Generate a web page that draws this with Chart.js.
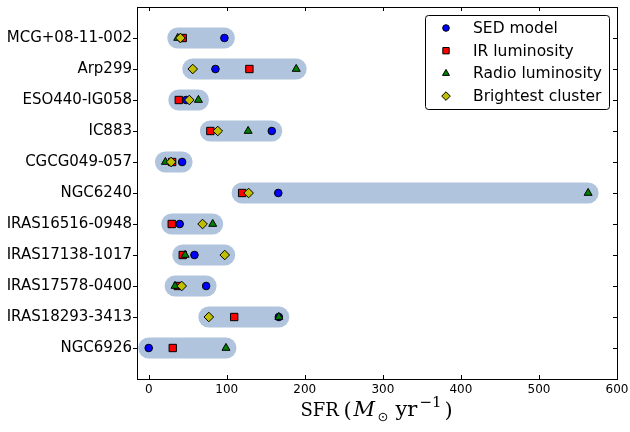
<!DOCTYPE html>
<html>
<head>
<meta charset="utf-8">
<script src="https://cdn.jsdelivr.net/npm/chart.js@4.4.0/dist/chart.umd.min.js"></script>
<style>
  html, body { margin: 0; padding: 0; background: #fff; }
</style>
</head>
<body>
<canvas id="chart" width="630" height="432"></canvas>
<script>
const galaxies = [
  "MCG+08-11-002", "Arp299", "ESO440-IG058", "IC883", "CGCG049-057", "NGC6240",
  "IRAS16516-0948", "IRAS17138-1017", "IRAS17578-0400", "IRAS18293-3413", "NGC6926"
];
const sedModel = [97, 85.5, 48, 157.7, 42.8, 166, 39.7, 58.6, 73.6, 166.7, 0];
const irLum = [43.6, 129, 38.5, 79, 30, 119.7, 29.5, 43.6, 37.2, 109.5, 30.8];
const radioLum = [37.2, 189, 63.7, 127.4, 21.4, 563, 82, 46.7, 33.8, 166.7, 99];
const brightestCluster = [40.6, 56.4, 52, 88.5, 28.7, 128, 69, 97.4, 42.3, 77, null];
const xTicks = [0, 100, 200, 300, 400, 500, 600];

const FONT = "DejaVu Sans";

// one marker series per method
const series = [
  { label: "SED model", values: sedModel, style: "circle", color: "#0000ff", r: 3.8, lr: 3.3, order: 4 },
  { label: "IR luminosity", values: irLum, style: "rect", color: "#ff0000", r: 5.2, lr: 4.5, order: 3 },
  { label: "Radio luminosity", values: radioLum, style: "triangle", color: "#008000", r: 4.6, lr: 4, order: 2 },
  { label: "Brightest cluster", values: brightestCluster, style: "rectRot", color: "#bfbf00", r: 4.8, lr: 4.3, order: 1 }
];

// range bars: from smallest to largest estimate of each galaxy
const rangeSets = galaxies.map((g, i) => {
  const vals = series.map(s => s.values[i]).filter(v => v !== null);
  return {
    type: "line",
    data: [{ x: Math.min(...vals), y: i }, { x: Math.max(...vals), y: i }],
    borderColor: "#b0c4de",
    borderWidth: 21,
    borderCapStyle: "round",
    pointRadius: 0,
    pointHoverRadius: 0,
    order: 10
  };
});

const markerSets = series.map(s => ({
  type: "scatter",
  label: s.label,
  legendMarker: true,
  lr: s.lr,
  data: s.values.map((v, i) => ({ x: v, y: i })).filter(p => p.x !== null),
  pointStyle: s.style,
  pointRadius: s.r,
  pointHoverRadius: s.r,
  backgroundColor: s.color,
  borderColor: "#000",
  borderWidth: 1,
  order: s.order
}));

const framePlugin = {
  id: "frame",
  afterDraw(chart) {
    const ctx = chart.ctx;
    const a = chart.chartArea;
    const xs = chart.scales.x, ys = chart.scales.y;
    ctx.save();
    ctx.strokeStyle = "#000";
    ctx.lineWidth = 1;
    ctx.strokeRect(Math.round(a.left) + 0.5, Math.round(a.top) + 0.5,
      Math.round(a.right - a.left), Math.round(a.bottom - a.top));
    // x ticks point inward, y ticks out on the left and in on the right
    ctx.beginPath();
    xTicks.forEach(v => {
      const px = Math.round(xs.getPixelForValue(v)) + 0.5;
      ctx.moveTo(px, a.bottom); ctx.lineTo(px, a.bottom - 4);
      ctx.moveTo(px, a.top); ctx.lineTo(px, a.top + 4);
    });
    galaxies.forEach((g, i) => {
      const py = Math.round(ys.getPixelForValue(i)) + 0.5;
      ctx.moveTo(a.left, py); ctx.lineTo(a.left - 4, py);
      ctx.moveTo(a.right, py); ctx.lineTo(a.right - 4, py);
    });
    ctx.stroke();

    // legend box in the upper right corner
    const bx = 425.5, by = 15.5, bw = 184, bh = 94;
    ctx.fillStyle = "#fff";
    ctx.beginPath();
    ctx.roundRect(bx, by, bw, bh, 3);
    ctx.fill();
    ctx.stroke();
    ctx.font = "15.5px " + FONT;
    ctx.textBaseline = "middle";
    chart.data.datasets.filter(d => d.legendMarker).forEach((d, k) => {
      const y = 28 + k * 22.7;
      ctx.fillStyle = d.backgroundColor;
      ctx.strokeStyle = "#000";
      ctx.lineWidth = 1;
      Chart.helpers.drawPoint(ctx, { pointStyle: d.pointStyle, radius: d.lr, rotation: 0, borderWidth: 1 }, 446, y);
      ctx.fillStyle = "#000";
      ctx.fillText(d.label, 473, y + 1);
    });

    // axis title SFR (M_sun yr^-1), parts placed by offset from the start
    const serif = "'DejaVu Serif'";
    const parts = [
      { t: "SFR", f: "18px " + serif, dx: 0, dy: 0 },
      { t: "(", f: "21px " + serif, dx: 43, dy: 1 },
      { t: "M", f: "italic 21px " + serif, dx: 53, dy: 0 },
      { t: "\u2299", f: "13px 'DejaVu Sans'", dx: 77, dy: 5 },
      { t: "yr", f: "21px " + serif, dx: 95, dy: 0 },
      { t: "\u22121", f: "15px " + serif, dx: 119, dy: -9 },
      { t: ")", f: "21px " + serif, dx: 144, dy: 1 }
    ];
    const total = 153;
    const x0 = (a.left + a.right) / 2 - total / 2;
    ctx.textBaseline = "alphabetic";
    ctx.fillStyle = "#000";
    parts.forEach(p => {
      ctx.font = p.f;
      ctx.fillText(p.t, x0 + p.dx, 416 + p.dy);
    });
    ctx.restore();
  }
};

new Chart(document.getElementById("chart"), {
  data: { datasets: [...markerSets, ...rangeSets] },
  options: {
    responsive: false,
    devicePixelRatio: 1,
    animation: false,
    events: [],
    layout: { padding: { top: 7, right: 13, left: 0, bottom: 0 } },
    plugins: { legend: { display: false }, tooltip: { enabled: false } },
    scales: {
      x: {
        type: "linear",
        min: -15,
        max: 600,
        grid: { display: false, drawTicks: false },
        border: { display: false },
        ticks: { color: "#000", font: { family: FONT, size: 12 }, padding: 4 },
        afterBuildTicks: s => { s.ticks = xTicks.map(v => ({ value: v })); },
        afterFit: s => { s.height = 53; s.paddingLeft = 0; s.paddingRight = 0; }
      },
      y: {
        type: "linear",
        min: -1,
        max: 11,
        reverse: true,
        grid: { display: false, drawTicks: false },
        border: { display: false },
        ticks: {
          color: "#000",
          font: { family: FONT, size: 15 },
          padding: 5,
          callback: v => galaxies[v]
        },
        afterBuildTicks: s => { s.ticks = galaxies.map((g, i) => ({ value: i })); },
        afterFit: s => { s.width = 137; s.paddingTop = 0; s.paddingBottom = 0; }
      }
    }
  },
  plugins: [framePlugin]
});
</script>
</body>
</html>
